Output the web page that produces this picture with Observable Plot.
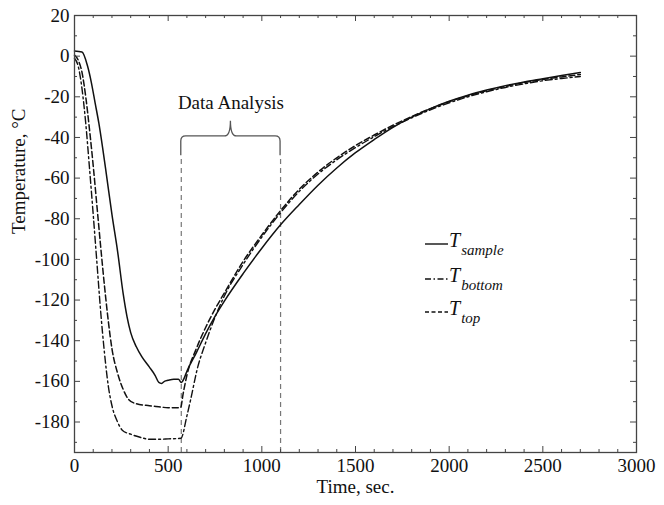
<!DOCTYPE html>
<html><head><meta charset="utf-8">
<script src="https://cdn.jsdelivr.net/npm/d3@7"></script>
<script src="https://cdn.jsdelivr.net/npm/@observablehq/plot@0.6"></script>
<style>body{margin:0;background:#fff} #chart{width:664px;height:505px}</style>
</head><body><div id="chart"></div>
<script>
// ---- data ----
const sampleTime = [0,40,70,90,110,130,150,170,200,230,260,280,300,330,360,400,430,450,465,480,500,530,555,570,585,600,650,700,750,800,900,1000,1100,1200,1300,1400,1500,1600,1700,1800,1900,2000,2100,2200,2300,2400,2500,2600,2700];
const sampleTemp = [2.5,2,-5,-13,-23,-33,-45,-58,-78,-96,-117,-128,-136,-143,-148,-153,-157,-160.5,-161,-160,-159.5,-159,-159,-160.5,-158.5,-155,-146,-136.5,-128,-120.5,-107,-94.5,-83,-73,-63.5,-55,-47.5,-41,-35,-30,-25.8,-22.2,-19.2,-16.7,-14.5,-12.7,-11.1,-9.5,-8];

const bottomTime = [0,20,40,60,80,100,120,140,160,180,200,230,255,300,350,400,450,500,568,600,620,655,700,750,800,900,1000,1100,1200,1300,1400,1500,1600,1700,1800,1900,2000,2100,2200,2300,2400,2500,2600,2700];
const bottomTemp = [-1,-5,-16,-33,-55,-78,-102,-126,-146,-162,-172,-180,-184,-186,-187.5,-188.5,-188.5,-188.3,-188,-177,-169,-154,-141,-128.5,-118,-102.5,-89,-77,-66.5,-58,-51,-45,-39.6,-34.7,-30.3,-26.4,-23,-20,-17.5,-15.4,-13.6,-12.1,-11,-10];

const topTime = [0,20,40,60,80,100,120,140,160,180,200,230,260,290,330,400,450,500,566,580,600,650,700,750,800,900,1000,1100,1200,1300,1400,1500,1600,1700,1800,1900,2000,2100,2200,2300,2400,2500,2600,2700];
const topTemp = [0.5,-2,-8,-20,-36,-54,-74,-94,-113,-130,-144,-156,-164,-169,-171,-172,-172.5,-173,-173,-166,-157,-144,-133.5,-124.5,-116.5,-101,-88,-76,-65.5,-57,-50,-44,-38.8,-34,-29.7,-25.8,-22.4,-19.5,-17,-14.9,-13,-11.5,-10.2,-9];

const xTicks = [0,500,1000,1500,2000,2500,3000];
const yTicks = [-180,-160,-140,-120,-100,-80,-60,-40,-20,0,20];
const xMinor = d3.range(0,3001,100).filter(d => d % 500 !== 0);
const yMinor = d3.range(-190,21,10).filter(d => d % 20 !== 0);

const analysisBounds = [570, 1100];   // Data Analysis window, sec
const braceBottom = -49, braceLevel = -39.5, bracePeak = -32, braceCenter = 835;
const annotation = "Data Analysis";
const xLabel = "Time, sec.";
const yLabel = "Temperature, °C";
const legendNames = ["sample", "bottom", "top"];
const legendDash = [null, "6,2.5,1.5,2.5", "4,2.5"];

// ---- layout ----
const W = 664, H = 505, mL = 74, mR = 28, mT = 15, mB = 53;
const innerW = W - mL - mR, innerH = H - mT - mB;
const frameColor = "#444";
const serif = "'Liberation Serif', 'Times New Roman', serif";
const rows = (t, v) => t.map((d, i) => ({t: d, v: v[i]}));

const plot = Plot.plot({
  width: W, height: H,
  marginLeft: mL, marginRight: mR, marginTop: mT, marginBottom: mB,
  style: {fontFamily: serif, fontSize: "19px", background: "#fff", color: "#111"},
  x: {domain: [0, 3000]},
  y: {domain: [-195, 20]},
  marks: [
    Plot.ruleX(analysisBounds, {x: d => d, y1: -195, y2: braceBottom, stroke: "#777", strokeWidth: 1.2, strokeDasharray: "5,4"}),
    Plot.line(rows(bottomTime, bottomTemp), {x: "t", y: "v", stroke: "#111", strokeWidth: 1.4, strokeDasharray: "7,3,2,3", curve: "monotone-x"}),
    Plot.line(rows(topTime, topTemp), {x: "t", y: "v", stroke: "#111", strokeWidth: 1.5, strokeDasharray: "6,3", curve: "monotone-x"}),
    Plot.line(rows(sampleTime, sampleTemp), {x: "t", y: "v", stroke: "#111", strokeWidth: 1.5, curve: "monotone-x"}),
    Plot.tickX(xTicks, {x: d => d, insetTop: innerH - 6, stroke: frameColor}),
    Plot.tickX(xTicks, {x: d => d, insetBottom: innerH - 6, stroke: frameColor}),
    Plot.tickX(xMinor, {x: d => d, insetTop: innerH - 3, stroke: frameColor}),
    Plot.tickX(xMinor, {x: d => d, insetBottom: innerH - 3, stroke: frameColor}),
    Plot.tickY(yTicks, {y: d => d, insetRight: innerW - 6, stroke: frameColor}),
    Plot.tickY(yTicks, {y: d => d, insetLeft: innerW - 6, stroke: frameColor}),
    Plot.tickY(yMinor, {y: d => d, insetRight: innerW - 3, stroke: frameColor}),
    Plot.tickY(yMinor, {y: d => d, insetLeft: innerW - 3, stroke: frameColor}),
    Plot.frame({stroke: frameColor, strokeWidth: 1.3}),
    Plot.axisX({ticks: xTicks, tickSize: 0, tickPadding: 6, tickFormat: d => String(d), label: null, fontSize: 19, fill: "#111"}),
    Plot.axisY({ticks: yTicks, tickSize: 0, tickPadding: 5, tickFormat: d => String(d), label: null, fontSize: 19, fill: "#111"}),
    Plot.text([xLabel], {frameAnchor: "bottom", dy: 40, fontSize: 19, fill: "#111"}),
    Plot.text([yLabel], {frameAnchor: "left", dx: -56, rotate: -90, fontSize: 19, fill: "#111"}),
    Plot.text([annotation], {x: braceCenter, y: -23, fontSize: 19, fill: "#111"})
  ]
});
document.getElementById("chart").appendChild(plot);

// ---- brace over the analysis window ----
const sx = plot.scale("x").apply, sy = plot.scale("y").apply;
const L = sx(analysisBounds[0]), R = sx(analysisBounds[1]), C = sx(braceCenter);
const yb = sy(braceBottom), yh = sy(braceLevel), yp = sy(bracePeak);
const svg = d3.select(plot);
svg.append("path")
  .attr("fill", "none").attr("stroke", "#555").attr("stroke-width", 1.3)
  .attr("d", `M${L},${yb} L${L},${yh + 5} Q${L},${yh} ${L + 5},${yh} L${C - 6},${yh} Q${C},${yh} ${C},${yp} Q${C},${yh} ${C + 6},${yh} L${R - 5},${yh} Q${R},${yh} ${R},${yh + 5} L${R},${yb}`);

// ---- legend ----
const legendX = 425, legendBase = [247, 282, 315];
const lg = svg.append("g").attr("font-family", serif).attr("fill", "#111").attr("text-anchor", "start");
legendNames.forEach((name, i) => {
  const b = legendBase[i];
  lg.append("line").attr("x1", legendX).attr("x2", legendX + 23).attr("y1", b - 3).attr("y2", b - 3)
    .attr("stroke", "#111").attr("stroke-width", 1.4).attr("stroke-dasharray", legendDash[i]);
  const t = lg.append("text").attr("x", legendX + 24).attr("y", b).attr("font-style", "italic").attr("text-anchor", "start");
  t.append("tspan").attr("font-size", 20).text("T");
  t.append("tspan").attr("font-size", 15).attr("dx", 1).attr("dy", 8).text(name);
});
</script>
</body></html>
